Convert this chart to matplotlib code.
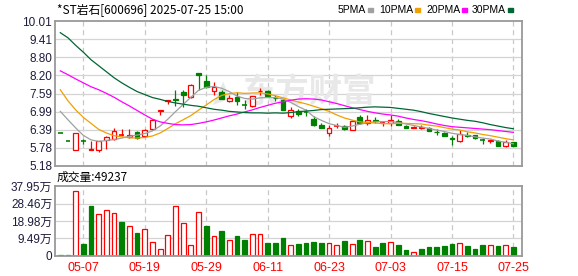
import matplotlib
matplotlib.use("Agg")
import matplotlib.pyplot as plt
from matplotlib.patches import Rectangle

# ---------------------------------------------------------------- data
dates = ["04-29", "04-30", "05-06", "05-07", "05-08", "05-09", "05-12", "05-13", "05-14", "05-15",
         "05-16", "05-19", "05-20", "05-21", "05-22", "05-23", "05-26", "05-27", "05-28", "05-29",
         "05-30", "06-03", "06-04", "06-05", "06-06", "06-09", "06-10", "06-11", "06-12", "06-13",
         "06-16", "06-17", "06-18", "06-19", "06-20", "06-23", "06-24", "06-25", "06-26", "06-27",
         "06-30", "07-01", "07-02", "07-03", "07-04", "07-07", "07-08", "07-09", "07-10", "07-11",
         "07-14", "07-15", "07-16", "07-17", "07-18", "07-21", "07-22", "07-23", "07-24", "07-25"]

opens = [6.29, 6.00, 5.72, 6.01, 5.70, 5.72, 6.05, 6.09, 6.19, 6.13,
         6.32, 6.19, 6.41, 7.02, 7.34, 7.41, 7.63, 7.47, 8.29, 8.02,
         7.67, 7.66, 7.33, 7.49, 7.22, 7.18, 7.67, 7.68, 7.45, 7.37,
         6.86, 7.02, 7.00, 6.75, 6.53, 6.28, 6.49, 6.52, 6.39, 6.81,
         6.61, 6.70, 6.62, 6.61, 6.67, 6.52, 6.46, 6.46, 6.45, 6.32,
         6.28, 6.11, 6.02, 6.20, 6.21, 6.06, 6.02, 6.00, 5.86, 5.98]
highs = [6.29, 6.00, 6.28, 6.09, 6.02, 6.00, 6.17, 6.45, 6.41, 6.41,
         6.35, 6.41, 6.73, 7.04, 7.37, 7.72, 7.72, 7.90, 8.29, 8.20,
         7.97, 7.70, 7.55, 7.65, 7.38, 7.52, 7.79, 7.72, 7.56, 7.39,
         7.16, 7.08, 7.09, 6.86, 6.60, 6.55, 6.61, 6.56, 6.72, 6.89,
         6.89, 6.80, 6.69, 6.89, 6.75, 6.53, 6.50, 6.53, 6.47, 6.41,
         6.31, 6.19, 6.37, 6.30, 6.22, 6.10, 6.09, 6.04, 6.03, 5.99]
lows = [6.29, 6.00, 5.72, 5.91, 5.70, 5.64, 5.76, 6.04, 6.18, 6.10,
        6.09, 6.15, 6.38, 6.89, 7.26, 7.17, 7.16, 7.46, 7.72, 7.78,
        7.53, 7.40, 7.32, 7.22, 7.07, 7.16, 7.53, 7.47, 7.34, 7.04,
        6.78, 6.83, 6.86, 6.52, 6.44, 6.18, 6.45, 6.38, 6.37, 6.59,
        6.56, 6.61, 6.52, 6.52, 6.53, 6.44, 6.45, 6.42, 6.34, 6.22,
        6.17, 5.89, 5.99, 6.14, 6.09, 5.92, 5.95, 5.84, 5.81, 5.83]
closes = [6.29, 6.00, 6.28, 6.00, 5.74, 6.00, 6.14, 6.36, 6.21, 6.21,
          6.11, 6.38, 6.71, 7.04, 7.37, 7.38, 7.53, 7.89, 8.21, 7.80,
          7.81, 7.42, 7.44, 7.36, 7.20, 7.51, 7.69, 7.50, 7.43, 7.05,
          7.05, 6.92, 6.98, 6.56, 6.45, 6.45, 6.51, 6.42, 6.69, 6.61,
          6.72, 6.68, 6.64, 6.70, 6.54, 6.45, 6.48, 6.48, 6.36, 6.30,
          6.19, 6.09, 6.26, 6.18, 6.10, 6.04, 6.04, 5.86, 5.97, 5.84]

ma5 = [7.00, 6.72, 6.45, 6.20, 6.05, 6.00, 6.03, 6.06, 6.11, 6.17,
       6.21, 6.26, 6.35, 6.51, 6.74, 6.99, 7.23, 7.47, 7.70, 7.80,
       7.83, 7.77, 7.66, 7.51, 7.43, 7.41, 7.45, 7.46, 7.46, 7.41,
       7.30, 7.16, 7.04, 6.82, 6.70, 6.59, 6.53, 6.47, 6.51, 6.57,
       6.62, 6.65, 6.66, 6.66, 6.63, 6.58, 6.53, 6.48, 6.43, 6.38,
       6.33, 6.27, 6.23, 6.20, 6.15, 6.11, 6.08, 6.01, 5.97, 5.92]
ma10 = [7.72, 7.35, 7.05, 6.80, 6.60, 6.40, 6.28, 6.19, 6.15, 6.12,
        6.11, 6.13, 6.18, 6.28, 6.43, 6.59, 6.72, 6.86, 7.04, 7.21,
        7.39, 7.53, 7.59, 7.62, 7.60, 7.61, 7.62, 7.58, 7.52, 7.45,
        7.38, 7.31, 7.25, 7.17, 7.09, 7.00, 6.88, 6.78, 6.71, 6.65,
        6.63, 6.61, 6.59, 6.59, 6.60, 6.60, 6.59, 6.58, 6.54, 6.51,
        6.46, 6.41, 6.38, 6.32, 6.28, 6.23, 6.19, 6.14, 6.09, 6.05]
ma20 = [8.35, 8.22, 8.08, 7.95, 7.82, 7.72, 7.60, 7.47, 7.32, 7.18,
        7.03, 6.88, 6.74, 6.65, 6.60, 6.56, 6.55, 6.56, 6.60, 6.65,
        6.71, 6.78, 6.85, 6.91, 6.98, 7.05, 7.13, 7.20, 7.27, 7.32,
        7.37, 7.41, 7.42, 7.41, 7.38, 7.32, 7.26, 7.19, 7.12, 7.06,
        7.00, 6.95, 6.91, 6.88, 6.84, 6.78, 6.73, 6.69, 6.64, 6.58,
        6.53, 6.49, 6.47, 6.45, 6.43, 6.41, 6.39, 6.36, 6.33, 6.30]
ma30 = [9.62, 9.45, 9.20, 8.97, 8.72, 8.52, 8.32, 8.12, 7.95, 7.80,
        7.66, 7.56, 7.46, 7.40, 7.33, 7.28, 7.24, 7.20, 7.17, 7.12,
        7.07, 7.04, 7.00, 6.98, 6.96, 6.95, 6.95, 6.94, 6.95, 6.94,
        6.96, 6.99, 7.01, 7.03, 7.06, 7.07, 7.08, 7.09, 7.10, 7.12,
        7.14, 7.15, 7.14, 7.13, 7.10, 7.07, 7.04, 6.99, 6.93, 6.88,
        6.83, 6.78, 6.74, 6.70, 6.67, 6.62, 6.56, 6.51, 6.46, 6.42]

# volume in 万 (10k), and whether the bar is drawn as "up" (red hollow)
volume = [0.5, 0.5, 35.4, 6.6, 27.2, 22.8, 24.8, 23.3, 18.3, 16.5,
          12.4, 14.8, 7.6, 3.7, 11.5, 27.0, 17.8, 5.9, 23.7, 16.1,
          10.9, 13.3, 8.7, 10.6, 8.7, 11.7, 11.7, 7.2, 7.2, 10.0,
          5.7, 6.7, 7.1, 7.6, 7.3, 7.1, 5.9, 7.9, 6.5, 8.5,
          8.3, 4.8, 7.3, 7.7, 6.1, 3.0, 2.2, 3.6, 4.8, 4.8,
          5.5, 6.7, 7.1, 5.5, 3.6, 6.1, 6.1, 5.5, 6.1, 4.92]
vol_up = [0, 0, 1, 0, 0, 1, 1, 1, 0, 1,
          0, 1, 1, 1, 1, 1, 1, 1, 1, 0,
          1, 0, 1, 0, 0, 1, 1, 0, 0, 0,
          1, 0, 0, 0, 0, 1, 1, 0, 1, 0,
          1, 0, 0, 1, 0, 0, 1, 0, 0, 0,
          0, 0, 1, 0, 0, 0, 1, 0, 1, 0]

price_ticks = [5.18, 5.78, 6.39, 6.99, 7.59, 8.20, 8.80, 9.41, 10.01]
price_labels = ["5.18", "5.78", "6.39", "6.99", "7.59", "8.20", "8.80", "9.41", "10.01"]
vol_ticks = [0, 9.49, 18.98, 28.46, 37.95]
vol_labels = ["0", "9.49万", "18.98万", "28.46万", "37.95万"]
xtick_dates = ["05-07", "05-19", "05-29", "06-11", "06-23", "07-03", "07-15", "07-25"]

title = "*ST岩石[600696] 2025-07-25 15:00"
vol_title = "成交量:49237"
ma_names = ["5PMA", "10PMA", "20PMA", "30PMA"]

# ---------------------------------------------------------------- style
RED = "#ff0000"
GREEN = "#008000"
MA_COLORS = ["#a0a0a0", "#f0a000", "#ff00ff", "#006633"]
GRID = "#d4d4d4"
FRAME = "#999999"
LABEL = "#1c1c3c"
CJK = ["Liberation Sans", "Noto Sans CJK SC"]

W, H = 578, 276
fig = plt.figure(figsize=(W / 100, H / 100), dpi=100)


def box(left, top, right, bottom):
    return [left / W, 1 - bottom / H, (right - left) / W, (bottom - top) / H]


ax = fig.add_axes(box(55, 21, 522, 166))
axv = fig.add_axes(box(55, 186, 522, 256))

xs = list(range(len(dates)))
xlim = (-0.69, 60.12)
date_pos = [dates.index(d) for d in xtick_dates]
bw = 0.62

for a in (ax, axv):
    a.set_xlim(*xlim)
    for s in a.spines.values():
        s.set_color(FRAME)
        s.set_linewidth(1.3)
    for p in date_pos:
        a.axvline(p, color="#c8c8c8", lw=0.9, ls=(0, (4, 3)), zorder=0)
    a.tick_params(length=0, labelsize=8.5, colors=LABEL, pad=2)

# price panel
ax.set_ylim(price_ticks[0], price_ticks[-1])
ax.set_yticks(price_ticks)
ax.set_yticklabels(price_labels, family="Liberation Sans")
for t in price_ticks[1:-1]:
    ax.axhline(t, color=GRID, lw=0.9, zorder=0)
ax.set_xticks([])

# watermark
ax.text(32.4, 7.62, "东方财富", family="Noto Sans CJK SC", fontsize=24, fontweight="bold",
        color="#e8e8e8", ha="center", va="center", zorder=0.5)
ax.text(20.6, 7.62, "◢", family="DejaVu Sans", fontsize=17,
        color="#e8e8e8", ha="center", va="center", zorder=0.5, rotation=20)

for i in xs:
    o, h, l, c = opens[i], highs[i], lows[i], closes[i]
    up = c >= o and not (o == h == l == c)
    col = RED if up else GREEN
    lo, hi = min(o, c), max(o, c)
    ax.vlines(i, l, h, color=col, lw=0.9, zorder=2)
    if hi - lo < 0.02:
        ax.hlines((lo + hi) / 2, i - bw / 2, i + bw / 2, color=col, lw=1.2, zorder=2.5)
    else:
        ax.add_patch(Rectangle((i - bw / 2, lo), bw, hi - lo,
                               facecolor="white" if up else col,
                               edgecolor=col, lw=0.9, zorder=2.5))

for vals, col in zip([ma5, ma10, ma20, ma30], MA_COLORS):
    ax.plot(xs, vals, color=col, lw=0.9, zorder=3)

# volume panel
axv.set_ylim(0, vol_ticks[-1])
axv.set_yticks(vol_ticks)
axv.set_yticklabels(vol_labels, family=CJK)
for t in vol_ticks[1:-1]:
    axv.axhline(t, color=GRID, lw=0.9, zorder=0)
for i in xs:
    col = RED if vol_up[i] else GREEN
    axv.add_patch(Rectangle((i - bw / 2, 0), bw, volume[i],
                            facecolor="white" if vol_up[i] else col,
                            edgecolor=col, lw=0.9, zorder=2))
axv.set_xticks(date_pos)
axv.set_xticklabels(xtick_dates, family="Liberation Sans", fontsize=9, color=RED)
axv.tick_params(axis="x", pad=4)

# header texts
fig.text(57 / W, 1 - 10 / H, title, family=CJK[::-1], fontsize=8.5, color="#000000",
         ha="left", va="center")
fig.text(57 / W, 1 - 177 / H, vol_title, family=CJK[::-1], fontsize=8.5, color="#000000",
         ha="left", va="center")
leg_x = [338, 379, 426, 472]
fig.canvas.draw()
for x0, name, col in zip(leg_x, ma_names, MA_COLORS):
    t = fig.text(x0 / W, 1 - 10 / H, name, family="Liberation Sans", fontsize=7.5,
                 color="#000000", ha="left", va="center")
    bb = t.get_window_extent(renderer=fig.canvas.get_renderer())
    fig.patches.append(Rectangle(((bb.x1 + 2) / W, 1 - 11.5 / H), 5 / W, 3 / H,
                                 color=col, transform=fig.transFigure, figure=fig))

fig.savefig("out.png", dpi=100)
